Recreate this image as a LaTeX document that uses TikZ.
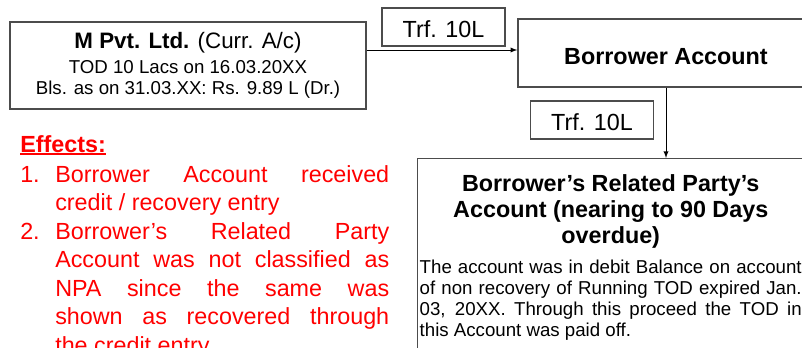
\documentclass[tikz,border=0pt]{standalone}
\usepackage{fontspec}
\setmainfont{Liberation Sans}
\usetikzlibrary{arrows}

\tikzset{
	acbox/.style={draw=black!70, line width=1.1pt, fill=white, inner sep=0pt},
	trfbox/.style={acbox, minimum width=92.25pt, minimum height=28.5pt, text height=15.3pt, font=\fontsize{17.5}{20}\selectfont},
	flow/.style={->, >=latex, line width=0.75pt},
}
\newcommand{\effline}[1]{\setbox0\hbox{#1}\rlap{\rule[-2.2pt]{\wd0}{1.4pt}}\box0}

\begin{document}
\begin{tikzpicture}[x=0.75pt, y=-0.75pt]
	\useasboundingbox (0,0) rectangle (802,347);
	\clip (0,0) rectangle (802,347);
	
	\node[acbox, minimum width=267pt, minimum height=65.25pt, align=center, font=\fontsize{14}{16}\selectfont] (mbox) at (188,65.5)
		{{\fontsize{16.75}{18}\selectfont\textbf{M Pvt. Ltd.} (Curr. A/c)}\\[2.75pt]TOD 10 Lacs on 16.03.20XX\\Bls. as on 31.03.XX: Rs. 9.89 L (Dr.)};
	\node[acbox, minimum width=222pt, minimum height=51pt, text height=18pt, font=\fontsize{17.5}{20}\selectfont\bfseries] (borrower) at (666,53) {Borrower Account};
	\node[trfbox] (trfA) at (443.5,27) {Trf. 10L};
	\node[trfbox] (trfB) at (592,120) {Trf. 10L};
	
	\node[acbox, anchor=north west, text width=286.5pt, inner xsep=1.5pt, inner ysep=11.8pt, align=justify, font=\fontsize{14}{15.75}\selectfont] (related) at (417,158)
		{{\centering\fontsize{17.5}{19.7}\selectfont\bfseries Borrower’s Related Party’s Account (nearing to 90 Days overdue)\par}\vspace{6.4pt}The account was in debit Balance on account\linebreak of non recovery of Running TOD expired Jan.\linebreak 03, 20XX. Through this proceed the TOD in\linebreak this Account was paid off.\par};
	
	\coordinate (link) at (0,50);
	\draw[flow] (mbox.east |- link) -- (borrower.west |- link); % Стрелка вправо
	\draw[flow] (borrower.south) -- (borrower.south |- related.north); % Стрелка вниз
	
	% Последствия
	\node[anchor=north west, inner sep=0pt, text width=276.75pt, align=justify, text=red, font=\fontsize{17.5}{21.4}\selectfont] (effects) at (20,135)
		{\effline{\bfseries Effects:}\par\vspace{1.1pt}
		\hangindent=26.25pt\hangafter=1\makebox[26.25pt][l]{1.}Borrower Account received\linebreak credit / recovery entry\par
		\hangindent=26.25pt\hangafter=1\makebox[26.25pt][l]{2.}Borrower’s Related Party\linebreak Account was not classified as\linebreak NPA since the same was\linebreak shown as recovered through\linebreak the credit entry\par};
\end{tikzpicture}
\end{document}
